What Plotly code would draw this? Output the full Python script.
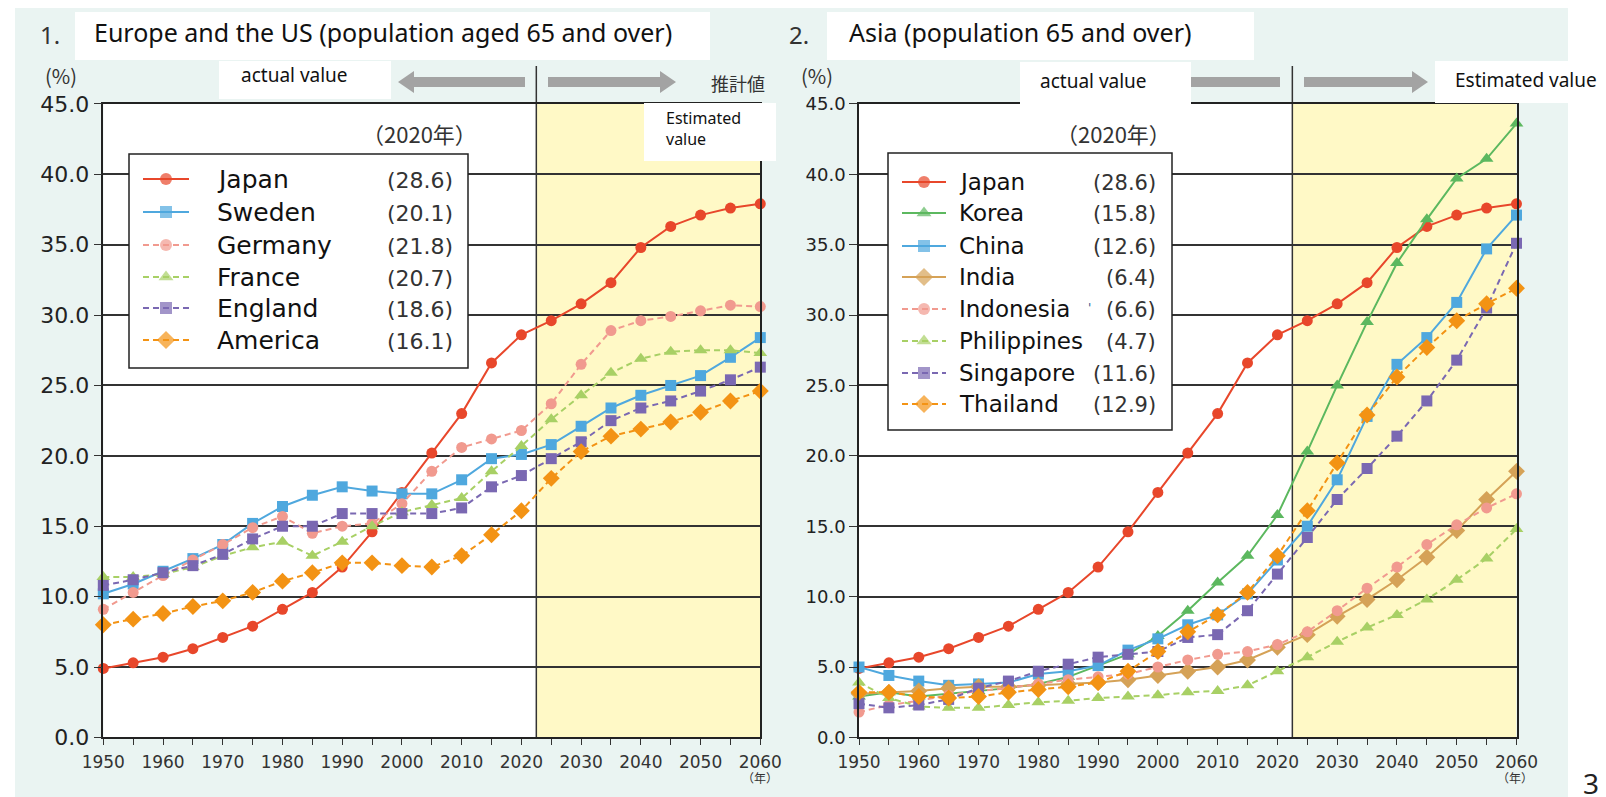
import plotly.graph_objects as go

# ---------------- data ----------------
years = list(range(1950, 2061, 5))

# Chart 1: Europe and the US
japan = [4.9, 5.3, 5.7, 6.3, 7.1, 7.9, 9.1, 10.3, 12.1, 14.6, 17.4, 20.2, 23.0, 26.6, 28.6,
         29.6, 30.8, 32.3, 34.8, 36.3, 37.1, 37.6, 37.9]
sweden = [10.2, 10.9, 11.8, 12.7, 13.7, 15.2, 16.4, 17.2, 17.8, 17.5, 17.3, 17.3, 18.3, 19.8, 20.1,
          20.8, 22.1, 23.4, 24.3, 25.0, 25.7, 27.0, 28.4]
germany = [9.1, 10.3, 11.5, 12.6, 13.7, 14.9, 15.7, 14.5, 15.0, 15.2, 16.6, 18.9, 20.6, 21.2, 21.8,
           23.7, 26.5, 28.9, 29.6, 29.9, 30.3, 30.7, 30.6]
france = [11.4, 11.4, 11.6, 12.1, 12.9, 13.5, 13.9, 12.9, 13.9, 15.0, 16.0, 16.5, 17.0, 18.9, 20.7,
          22.6, 24.3, 25.9, 26.9, 27.4, 27.5, 27.5, 27.3]
england = [10.8, 11.2, 11.7, 12.2, 13.0, 14.1, 15.0, 15.0, 15.9, 15.9, 15.9, 15.9, 16.3, 17.8, 18.6,
           19.8, 21.0, 22.5, 23.4, 23.9, 24.6, 25.4, 26.3]
america = [8.0, 8.4, 8.8, 9.3, 9.7, 10.3, 11.1, 11.7, 12.4, 12.4, 12.2, 12.1, 12.9, 14.4, 16.1,
           18.4, 20.3, 21.4, 21.9, 22.4, 23.1, 23.9, 24.6]

# Chart 2: Asia
korea = [2.9, 3.2, 2.9, 3.1, 3.3, 3.5, 3.8, 4.3, 5.1, 5.9, 7.2, 9.0, 11.0, 12.9, 15.8,
         20.3, 25.0, 29.5, 33.7, 36.8, 39.7, 41.1, 43.6]
china = [5.0, 4.4, 4.0, 3.7, 3.8, 3.9, 4.5, 4.7, 5.1, 6.2, 7.0, 8.0, 8.7, 10.2, 12.6,
         15.0, 18.3, 22.8, 26.5, 28.4, 30.9, 34.7, 37.1]
india = [3.1, 3.2, 3.3, 3.5, 3.6, 3.6, 3.7, 3.8, 3.9, 4.1, 4.4, 4.7, 5.0, 5.5, 6.4,
         7.3, 8.6, 9.8, 11.2, 12.8, 14.7, 16.9, 18.9]
indonesia = [1.8, 2.3, 2.6, 3.0, 3.3, 3.5, 3.8, 4.1, 4.3, 4.5, 5.0, 5.5, 5.9, 6.1, 6.6,
             7.5, 9.0, 10.6, 12.1, 13.7, 15.1, 16.3, 17.3]
philippines = [3.9, 2.8, 2.2, 2.1, 2.1, 2.3, 2.5, 2.6, 2.8, 2.9, 3.0, 3.2, 3.3, 3.7, 4.7,
               5.7, 6.8, 7.8, 8.7, 9.8, 11.2, 12.7, 14.8]
singapore = [2.4, 2.1, 2.3, 2.7, 3.5, 4.0, 4.7, 5.2, 5.7, 5.9, 6.1, 7.1, 7.3, 9.0, 11.6,
             14.2, 16.9, 19.1, 21.4, 23.9, 26.8, 30.5, 35.1]
thailand = [3.2, 3.2, 2.9, 2.8, 2.9, 3.2, 3.4, 3.6, 3.9, 4.7, 6.1, 7.5, 8.7, 10.3, 12.9,
            16.1, 19.5, 22.9, 25.6, 27.7, 29.6, 30.8, 31.9]

left_names = ["Japan", "Sweden", "Germany", "France", "England", "America"]
left_values = ["(28.6)", "(20.1)", "(21.8)", "(20.7)", "(18.6)", "(16.1)"]
left_series = [japan, sweden, germany, france, england, america]

right_names = ["Japan", "Korea", "China", "India", "Indonesia", "Philippines", "Singapore", "Thailand"]
right_values = ["(28.6)", "(15.8)", "(12.6)", "(6.4)", "(6.6)", "(4.7)", "(11.6)", "(12.9)"]
right_series = [japan, korea, china, india, indonesia, philippines, singapore, thailand]

y_ticks = [0, 5, 10, 15, 20, 25, 30, 35, 40, 45]

# ---------------- styles ----------------
RED, BLUE, PINK, LGREEN = "#e8472b", "#4fa8de", "#f19a8f", "#a8d065"
PURPLE, ORANGE, GREEN, TAN = "#7a68b2", "#f39314", "#5cb85f", "#d5a257"
DASH = "6px,4px"
style = {
    "Japan": (RED, "solid", "circle", 11),
    "Sweden": (BLUE, "solid", "square", 11),
    "Germany": (PINK, DASH, "circle", 11),
    "France": (LGREEN, DASH, "triangle-up", 12),
    "England": (PURPLE, DASH, "square", 11),
    "America": (ORANGE, DASH, "diamond", 13),
    "Korea": (GREEN, "solid", "triangle-up", 12),
    "China": (BLUE, "solid", "square", 11),
    "India": (TAN, "solid", "diamond", 13),
    "Indonesia": (PINK, DASH, "circle", 11),
    "Philippines": (LGREEN, DASH, "triangle-up", 12),
    "Singapore": (PURPLE, DASH, "square", 11),
    "Thailand": (ORANGE, DASH, "diamond", 13),
}

# page pixel geometry (the page body has an 8px margin, so the figure starts at 8,8)
PW, PH = 1606, 797
OFF = 8
W, H = PW - OFF, PH - OFF
X0L, X1L = 103.3, 760.3
X0R, X1R = 859.0, 1516.5
Y0, Y45 = 737.4, 103.9
BOUND = 2022.5


def fx(p):
    return (p - OFF) / W


def fy(p):
    return 1 - (p - OFF) / H


fig = go.Figure()

# data traces
for names, series, xa, ya in [(left_names, left_series, "x", "y"),
                              (right_names, right_series, "x2", "y2")]:
    for nm, vals in zip(names, series):
        c, d, s, sz = style[nm]
        fig.add_trace(go.Scatter(
            x=years, y=vals, mode="lines+markers", name=nm,
            line=dict(color=c, width=2, dash=d),
            marker=dict(symbol=s, size=sz, color=c, line=dict(width=0)),
            cliponaxis=False, xaxis=xa, yaxis=ya, hoverinfo="x+y+name"))

annotations = []


def ann(text, x, y, size, color="#222", family="Noto Sans", xanchor="center", yanchor="middle"):
    annotations.append(dict(text=text, x=x, y=y, xref="x3", yref="y3", showarrow=False,
                            xanchor=xanchor, yanchor=yanchor,
                            font=dict(size=size, color=color, family=family)))


# legend samples (pixel overlay axes) + legend texts
legend_specs = [
    (left_names, left_values, [179, 212, 245, 277, 308, 340], 143, 166, 189, 215, 455, 25, 22),
    (right_names, right_values, [182, 213, 246, 277, 309, 341, 373, 404], 902, 924, 946, 957, 1158, 23, 21),
]
for names, vals, rows, xa_, xm, xb, xname, xval, nsz, vsz in legend_specs:
    for nm, v, ry in zip(names, vals, rows):
        c, d, s, sz = style[nm]
        fig.add_trace(go.Scatter(
            x=[xa_, xm, xb], y=[ry, ry, ry], mode="lines+markers",
            line=dict(color=c, width=2, dash=d),
            marker=dict(symbol=s, size=[0, sz + 1, 0], color=c, line=dict(width=0)),
            xaxis="x3", yaxis="y3", hoverinfo="skip"))
        ann(nm, xname, ry, nsz, "#111", "DejaVu Sans", "left")
        ann(v, xval, ry + 1, vsz, "#333", "DejaVu Sans", "right")

# ---------------- shapes ----------------
shapes = []
shapes.append(dict(type="rect", xref="paper", yref="paper", x0=fx(15), x1=fx(1568), y0=0, y1=fy(5),
                   fillcolor="#eaf4f2", line=dict(width=0), layer="below"))
for xr in ["x", "x2"]:
    shapes.append(dict(type="rect", xref=xr, yref="paper", x0=1950, x1=BOUND, y0=fy(Y0), y1=fy(Y45),
                       fillcolor="white", line=dict(width=0), layer="below"))
    shapes.append(dict(type="rect", xref=xr, yref="paper", x0=BOUND, x1=2060, y0=fy(Y0), y1=fy(Y45),
                       fillcolor="#fff9c6", line=dict(width=0), layer="below"))
    shapes.append(dict(type="line", xref=xr, yref="paper", x0=BOUND, x1=BOUND, y0=fy(Y0), y1=fy(66),
                       line=dict(color="#333333", width=1.5), layer="below"))


def pix_rect(x0, y0, x1, y1, fill="white", lc=None, lw=0):
    shapes.append(dict(type="rect", xref="x3", yref="y3", x0=x0, x1=x1, y0=y0, y1=y1,
                       fillcolor=fill, line=dict(width=lw, color=lc or fill), layer="below"))


def arrow(tail, tip, cy, bt=5, hh=11, hl=16, head=True):
    sgn = 1 if tip > tail else -1
    if head:
        hb = tip - sgn * hl
        p = (f"M {tail},{cy-bt} L {hb},{cy-bt} L {hb},{cy-hh} L {tip},{cy} "
             f"L {hb},{cy+hh} L {hb},{cy+bt} L {tail},{cy+bt} Z")
    else:
        p = f"M {tail},{cy-bt} L {tip},{cy-bt} L {tip},{cy+bt} L {tail},{cy+bt} Z"
    shapes.append(dict(type="path", xref="x3", yref="y3", path=p, fillcolor="#a3a3a3",
                       line=dict(width=0), layer="below"))


arrow(525, 398, 82)
arrow(548, 676, 82)
arrow(1191, 1280, 82, head=False)
arrow(1304, 1428, 82)

# title boxes, label boxes
pix_rect(75, 12, 710, 60)
pix_rect(827, 12, 1254, 60)
pix_rect(219, 61, 391, 99)
pix_rect(1020, 62, 1191, 104)
pix_rect(644, 103, 776, 161)
pix_rect(1435, 61, 1606, 103)
# legend boxes
pix_rect(129, 154, 468, 368, "white", "#222", 1.5)
pix_rect(888, 153, 1172, 430, "white", "#222", 1.5)

# ---------------- texts ----------------
ann("1.", 50, 34, 24, "#333")
ann("Europe and the US (population aged 65 and over)", 92, 32, 25, "#111", "Noto Sans", "left")
ann("2.", 799, 34, 24, "#333")
ann("Asia (population 65 and over)", 847, 32, 25, "#111", "Noto Sans", "left")
ann("(%)", 61, 75, 20, "#333", "Noto Sans CJK JP")
ann("(%)", 817, 75, 20, "#333", "Noto Sans CJK JP")
ann("actual value", 239, 75, 19, "#111", "Noto Sans", "left")
ann("actual value", 1038, 81, 19, "#111", "Noto Sans", "left")
ann("推計値", 738, 83, 18, "#333", "Noto Sans CJK JP")
ann("Estimated", 664, 118, 16, "#111", "Noto Sans", "left")
ann("value", 664, 139, 16, "#111", "Noto Sans", "left")
ann("Estimated value", 1453, 80, 19, "#111", "Noto Sans", "left")
ann("（2020年）", 419, 133, 22, "#333", "Noto Sans CJK JP")
ann("（2020年）", 1113, 133, 22, "#333", "Noto Sans CJK JP")
ann("（年）", 760, 777, 12, "#333", "Noto Sans CJK JP")
ann("（年）", 1515, 777, 12, "#333", "Noto Sans CJK JP")
ann("'", 1089, 308, 12, "#34588f", "DejaVu Sans")
ann("3", 1591, 762, 28, "#222", "Noto Sans", "center", "top")


# ---------------- axes ----------------
def xaxis(dom, anchor):
    return dict(domain=dom, anchor=anchor, range=[1950, 2060], tick0=1950, dtick=10,
                ticks="outside", ticklen=6, tickwidth=1.2, tickcolor="#333",
                minor=dict(dtick=5, tick0=1950, ticks="outside", ticklen=6, tickwidth=1.2,
                           tickcolor="#333", showgrid=False),
                showgrid=False, zeroline=False, showline=True, linecolor="#222", linewidth=1.5,
                mirror=True, ticklabelstandoff=2,
                tickfont=dict(family="DejaVu Sans", size=17, color="#333"), fixedrange=True)


def yaxis(dom, anchor, fs):
    return dict(domain=dom, anchor=anchor, range=[0, 45], tickvals=y_ticks, tickformat=".1f",
                ticks="outside", ticklen=8, tickwidth=1.2, tickcolor="#333",
                showgrid=True, gridcolor="#333333", gridwidth=1.5, zeroline=False,
                showline=True, linecolor="#222", linewidth=1.5, mirror=True,
                tickfont=dict(family="DejaVu Sans", size=fs, color="#222"), fixedrange=True)


ydom = [fy(Y0), fy(Y45)]
fig.update_layout(
    width=W, height=H, margin=dict(l=0, r=0, t=0, b=0, autoexpand=False),
    paper_bgcolor="white", plot_bgcolor="rgba(0,0,0,0)", showlegend=False,
    xaxis=xaxis([fx(X0L), fx(X1L)], "y"),
    yaxis=yaxis(ydom, "x", 22),
    xaxis2=xaxis([fx(X0R), fx(X1R)], "y2"),
    yaxis2=yaxis(ydom, "x2", 18),
    xaxis3=dict(domain=[0, 1], range=[OFF, PW], visible=False, anchor="y3", fixedrange=True),
    yaxis3=dict(domain=[0, 1], range=[PH, OFF], visible=False, anchor="x3", fixedrange=True),
    shapes=shapes, annotations=annotations,
)

fig.write_html("out.html", config={"displayModeBar": False})
